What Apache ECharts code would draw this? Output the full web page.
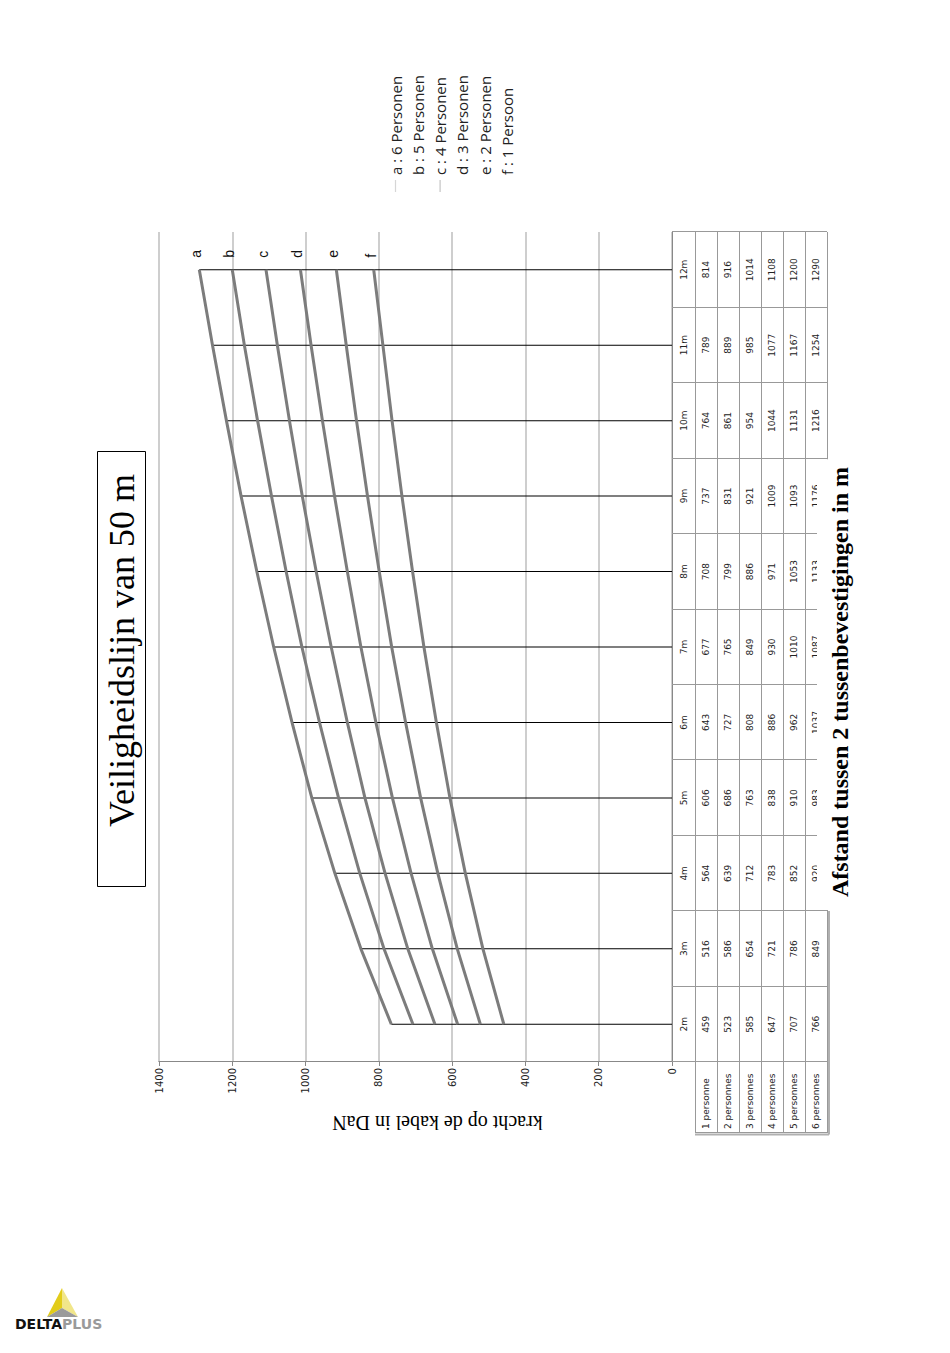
<!DOCTYPE html>
<html>
<head>
<meta charset="utf-8">
<script src="https://cdn.jsdelivr.net/npm/echarts@6/dist/echarts.min.js"></script>
<style>
html, body { margin:0; padding:0; background:#fff; overflow:hidden; width:950px; height:1353px; }
#chart { position:absolute; left:0; top:0; width:1353px; height:950px; transform-origin:0 0; transform:translate(0px,1353px) rotate(-90deg); background:#fff; }
</style>
</head>
<body>
<div id="chart"></div>
<script>
// ---- data ----
const categories = ['2m','3m','4m','5m','6m','7m','8m','9m','10m','11m','12m'];
const rowLabels = ['1 personne','2 personnes','3 personnes','4 personnes','5 personnes','6 personnes'];
const persons1 = [459, 516, 564, 606, 643, 677, 708, 737, 764, 789, 814];
const persons2 = [523, 586, 639, 686, 727, 765, 799, 831, 861, 889, 916];
const persons3 = [585, 654, 712, 763, 808, 849, 886, 921, 954, 985, 1014];
const persons4 = [647, 721, 783, 838, 886, 930, 971, 1009, 1044, 1077, 1108];
const persons5 = [707, 786, 852, 910, 962, 1010, 1053, 1093, 1131, 1167, 1200];
const persons6 = [766, 849, 920, 983, 1037, 1087, 1133, 1176, 1216, 1254, 1290];
const lineLetters = ['a','b','c','d','e','f'];
const legendNames = ['a : 6 Personen','b : 5 Personen','c : 4 Personen','d : 3 Personen','e : 2 Personen','f : 1 Persoon'];
const lineData = [persons6, persons5, persons4, persons3, persons2, persons1];
const tableRows = [persons1, persons2, persons3, persons4, persons5, persons6];
const titleText = 'Veiligheidslijn van 50 m';
const xAxisName = 'Afstand tussen 2 tussenbevestigingen in m';
const yAxisName = 'kracht op de kabel in DaN';
const yMin = 0, yMax = 1400, yInterval = 200;

const chart = echarts.init(document.getElementById('chart'), null, { renderer: 'svg', width: 1353, height: 950 });

const legendIconColors = ['#d6d6d6', 'rgba(0,0,0,0)', '#c4c4c4', 'rgba(0,0,0,0)', 'rgba(0,0,0,0)', 'rgba(0,0,0,0)'];

const series = lineData.map((d, i) => ({
  type: 'line',
  name: legendNames[i],
  data: d,
  symbol: 'none',
  z: 3,
  lineStyle: { color: '#7c7c7c', width: 3 },
  itemStyle: { color: '#7c7c7c' },
  endLabel: {
    show: true,
    formatter: () => lineLetters[i],
    distance: 12,
    offset: [0, -3],
    fontFamily: 'Liberation Sans',
    fontSize: 14,
    color: '#111'
  },
  emphasis: { disabled: true },
  silent: true
}));
series.unshift({
  type: 'bar',
  name: 'drop',
  data: persons6,
  barWidth: 1,
  itemStyle: { color: '#000' },
  z: 1,
  silent: true
});

chart.setOption({
  backgroundColor: '#fff',
  animation: false,
  grid: { left: 291, right: 232, top: 159, bottom: 278, containLabel: false },
  legend: {
    data: legendNames.map((n, i) => ({ name: n, itemStyle: { color: legendIconColors[i] }, lineStyle: { color: legendIconColors[i] } })),
    orient: 'vertical',
    left: 1156,
    top: 383,
    itemWidth: 12,
    itemHeight: 15,
    itemGap: 7.3,
    icon: 'path://M0,6L10,6L10,7L0,7Z',
    selectedMode: false,
    textStyle: { fontFamily: 'Open Sans', fontSize: 15, color: '#222', lineHeight: 15 }
  },
  xAxis: {
    type: 'category',
    data: categories,
    boundaryGap: true,
    axisLine: { lineStyle: { color: '#888', width: 1 } },
    axisTick: { show: true, length: 155, lineStyle: { color: '#999', width: 1 } },
    axisLabel: {
      interval: 0,
      margin: 1,
      fontFamily: 'DejaVu Sans',
      fontSize: 9,
      lineHeight: 22,
      color: '#222',
      formatter: (v, idx) => [v].concat(tableRows.map(r => r[idx])).join('\n')
    },
    splitLine: { show: false }
  },
  yAxis: {
    type: 'value',
    min: yMin,
    max: yMax,
    interval: yInterval,
    axisLine: { show: true, lineStyle: { color: '#888', width: 1 } },
    axisTick: { show: true, length: 4, lineStyle: { color: '#888' } },
    axisLabel: { margin: 6, fontFamily: 'DejaVu Sans', fontSize: 10, color: '#222', formatter: v => String(v) },
    splitLine: { show: true, lineStyle: { color: '#c2c2c2', width: 1.6 } }
  },
  series: series
});

// ---- table / decorations built from the axis scales ----
const c0 = chart.convertToPixel({ xAxisIndex: 0 }, categories[0]);
const c1 = chart.convertToPixel({ xAxisIndex: 0 }, categories[1]);
const band = c1 - c0;
const cLast = chart.convertToPixel({ xAxisIndex: 0 }, categories[categories.length - 1]);
const plotLeft = c0 - band / 2;
const plotRight = cLast + band / 2;
const y0 = chart.convertToPixel({ yAxisIndex: 0 }, 0);
const yTop = chart.convertToPixel({ yAxisIndex: 0 }, yMax);
const headerH = 23, rowH = 22, labelColW = 71;
const tableLeft = plotLeft - labelColW;
const rowsTop = y0 + headerH;
const rowsBottom = rowsTop + rowH * rowLabels.length;

const g = [];
for (let i = 0; i <= rowLabels.length; i++) {
  const y = Math.round(rowsTop + i * rowH) + 0.5;
  g.push({ type: 'line', shape: { x1: tableLeft, y1: y, x2: plotRight, y2: y }, style: { stroke: '#999', lineWidth: 1 }, z: 5 });
}
g.push({ type: 'line', shape: { x1: tableLeft + 0.5, y1: rowsTop, x2: tableLeft + 0.5, y2: rowsBottom }, style: { stroke: '#999', lineWidth: 1 }, z: 5 });
// shadow edges
g.push({ type: 'line', shape: { x1: tableLeft - 1.5, y1: rowsTop, x2: tableLeft - 1.5, y2: rowsBottom + 2 }, style: { stroke: '#b0b0b0', lineWidth: 2 }, z: 5 });
g.push({ type: 'line', shape: { x1: tableLeft - 1.5, y1: rowsBottom + 2, x2: c0 + band * 1.5, y2: rowsBottom + 2 }, style: { stroke: '#b0b0b0', lineWidth: 2 }, z: 5 });
rowLabels.forEach((t, i) => {
  g.push({ type: 'text', x: tableLeft + 4, y: rowsTop + i * rowH + rowH / 2, z: 6,
    style: { text: t, fontFamily: 'DejaVu Sans', fontSize: 9, fill: '#222', align: 'left', verticalAlign: 'middle' } });
});
// white box of the x-axis title that hides part of the last table row
const cutL = chart.convertToPixel({ xAxisIndex: 0 }, categories[2]) - band / 2 + 1;
const cutR = chart.convertToPixel({ xAxisIndex: 0 }, categories[7]) + band / 2 - 1;
g.push({ type: 'rect', shape: { x: cutL, y: rowsTop + 5 * rowH + 12, width: cutR - cutL, height: 60 }, style: { fill: '#fff' }, z: 20 });
g.push({ type: 'text', x: 671, y: 840, z: 21,
  style: { text: xAxisName, fontFamily: 'Liberation Serif', fontWeight: 'bold', fontSize: 24, fill: '#000', align: 'center', verticalAlign: 'middle' } });
// y-axis name (reads top-to-bottom)
g.push({ type: 'text', x: plotLeft - 61, y: (y0 + yTop) / 2 + 22, rotation: Math.PI / 2, z: 21,
  style: { text: yAxisName, fontFamily: 'Liberation Serif', fontSize: 20, fill: '#000', align: 'center', verticalAlign: 'middle' } });
// title box
g.push({ type: 'rect', shape: { x: 466.5, y: 97.5, width: 435, height: 48 }, style: { fill: '#fff', stroke: '#000', lineWidth: 1 }, z: 10 });
g.push({ type: 'text', x: 526, y: 122, z: 11,
  style: { text: titleText, fontFamily: 'Liberation Serif', fontSize: 36, fill: '#000', align: 'left', verticalAlign: 'middle' } });
// logo (page bottom-left, upright on the page)
const P = (xi, yi) => [1353 - yi, xi];
g.push({ type: 'polygon', shape: { points: [P(62, 1288), P(47, 1317), P(62, 1308)] }, style: { fill: '#e2cc1a' }, z: 10 });
g.push({ type: 'polygon', shape: { points: [P(62, 1288), P(62, 1308), P(78, 1317)] }, style: { fill: '#f1e68a' }, z: 10 });
g.push({ type: 'polygon', shape: { points: [P(47, 1317), P(62, 1308), P(78, 1317)] }, style: { fill: '#9a9a9a' }, z: 10 });
g.push({ type: 'text', x: 1353 - 1324, y: 15, rotation: -Math.PI / 2, z: 10,
  style: { text: '{d|DELTA}{p|PLUS}', align: 'left', verticalAlign: 'middle',
    rich: { d: { fontFamily: 'DejaVu Sans', fontWeight: 'bold', fontSize: 14, fill: '#111' },
            p: { fontFamily: 'DejaVu Sans', fontWeight: 'bold', fontSize: 14, fill: '#9a9a9a' } } } });

chart.setOption({ graphic: g });
</script>
</body>
</html>
